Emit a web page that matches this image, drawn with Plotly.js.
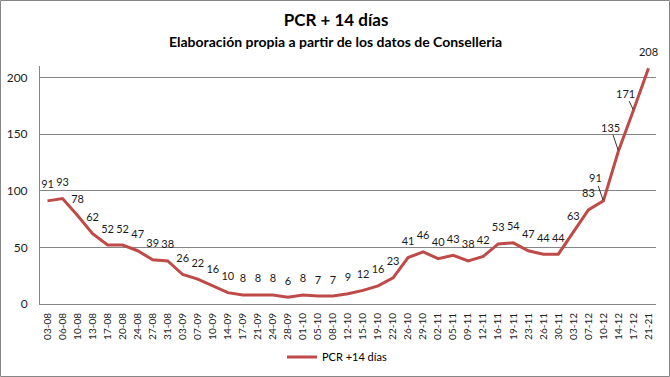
<!DOCTYPE html>
<html>
<head>
<meta charset="utf-8">
<script src="https://cdn.plot.ly/plotly-3.0.1.min.js"></script>
<style>
html,body{margin:0;padding:0;background:#fff;}
#chart{width:670px;height:377px;}
</style>
</head>
<body>
<div id="chart"></div>
<script>
const categories = ["03-08","06-08","10-08","13-08","17-08","20-08","24-08","27-08","31-08","03-09","07-09","10-09","14-09","17-09","21-09","24-09","28-09","01-10","05-10","08-10","12-10","15-10","19-10","22-10","26-10","29-10","02-11","05-11","09-11","12-11","16-11","19-11","23-11","26-11","30-11","03-12","07-12","10-12","14-12","17-12","21-21"];
const pcrValues = [91,93,78,62,52,52,47,39,38,26,22,16,10,8,8,8,6,8,7,7,9,12,16,23,41,46,40,43,38,42,53,54,47,44,44,63,83,91,135,171,208];
const seriesName = "PCR +14 días";
const yTicks = [0,50,100,150,200];

const leaderIdx = [37,38,39];
const leaderOffsets = {37:[-8,-23],38:[-8,-24],39:[-8,-17]};

const font = "Lato, 'Open Sans', sans-serif";
const W = 670, H = 377, ml = 40, mr = 14, mt = 66, mb = 73;
const pw = W - ml - mr, ph = H - mt - mb;

const textLabels = pcrValues.map((v,i) => leaderIdx.includes(i) ? "" : String(v));

const trace = {
  x: categories.map((c,i)=>i),
  y: pcrValues,
  type: "scatter",
  mode: "lines+markers+text",
  name: seriesName,
  line: {color: "#BE4B48", width: 3},
  marker: {size: 14, color: "rgba(0,0,0,0)"},
  text: textLabels,
  textposition: "top center",
  textfont: {family: font, size: 11, color: "#1a1a1a"},
  cliponaxis: false,
  hoverinfo: "skip",
  showlegend: false
};
const legendTrace = {
  x: [null], y: [null], type: "scatter", mode: "lines",
  name: seriesName, line: {color: "#BE4B48", width: 3}, showlegend: true
};

const annotations = leaderIdx.map(i => ({
  x: i, y: pcrValues[i], xref: "x", yref: "y",
  text: String(pcrValues[i]),
  showarrow: true, arrowhead: 0, arrowwidth: 0.8, arrowcolor: "#000",
  ax: leaderOffsets[i][0], ay: leaderOffsets[i][1],
  standoff: 1, startstandoff: 0,
  font: {family: font, size: 11, color: "#1a1a1a"}
}));
annotations.push({
  text: "<b>Elaboración propia a partir de los datos de Conselleria</b>",
  xref: "paper", yref: "paper", x: (335-ml)/pw, y: (H-mb-42)/ph,
  xanchor: "center", yanchor: "middle", showarrow: false,
  font: {family: font, size: 14, color: "#000"}
});

const layout = {
  width: W, height: H,
  margin: {l: ml, r: mr, t: mt, b: mb, autoexpand: false},
  paper_bgcolor: "#fff", plot_bgcolor: "#fff",
  title: {
    text: "<b>PCR + 14 días</b>",
    x: (336)/W, xanchor: "center", y: 1 - 20/H, yanchor: "middle",
    font: {family: font, size: 17, color: "#000"}
  },
  xaxis: {
    type: "linear", automargin: false,
    range: [-0.5, categories.length - 0.5],
    tickvals: categories.map((c,i)=>i),
    ticktext: categories,
    tickangle: -90,
    tickfont: {family: font, size: 10, color: "#222"},
    showgrid: false, zeroline: false,
    showline: true, linecolor: "#868686", linewidth: 1,
    ticks: "", ticklabelstandoff: 4,
    fixedrange: true
  },
  yaxis: {
    range: [0, 210], automargin: false,
    tickvals: yTicks,
    ticktext: yTicks.map(String),
    tickfont: {family: font, size: 12, color: "#222"},
    showgrid: true, gridcolor: "#868686", gridwidth: 1,
    zeroline: false,
    showline: true, linecolor: "#868686", linewidth: 1,
    ticks: "", ticklabelstandoff: 9,
    fixedrange: true
  },
  showlegend: true,
  legend: {
    orientation: "h", x: (337-ml)/pw, xanchor: "center",
    y: -(357-(H-mb))/ph, yanchor: "middle",
    font: {family: font, size: 11, color: "#000"},
    bgcolor: "rgba(0,0,0,0)"
  },
  annotations: annotations,
  shapes: [{
    type: "rect", xref: "paper", yref: "paper",
    x0: (0.5-ml)/pw, x1: (W-0.5-ml)/pw,
    y0: -(H-0.5-(H-mb))/ph, y1: (H-mb-0.5)/ph,
    line: {color: "#868686", width: 1}, fillcolor: "rgba(0,0,0,0)"
  }]
};

Plotly.newPlot("chart", [trace, legendTrace], layout, {staticPlot: true, displayModeBar: false});
</script>
</body>
</html>
